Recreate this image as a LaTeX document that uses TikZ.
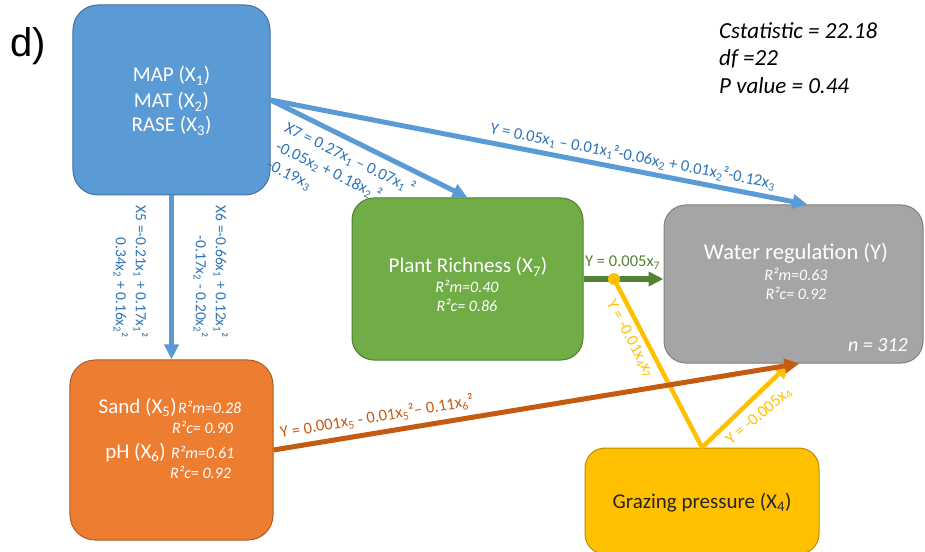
\documentclass[tikz,border=0pt]{standalone}
\usepackage{fontspec}
\setmainfont{Carlito}
\newfontfamily\panelfont{Liberation Sans}
\usetikzlibrary{arrows.meta}

\definecolor{mapblue}{HTML}{5B9BD5}
\definecolor{mapedge}{HTML}{41719C}
\definecolor{eqblue}{HTML}{2E75B6}
\definecolor{richgreen}{HTML}{70AD47}
\definecolor{richedge}{HTML}{507E32}
\definecolor{arrowgreen}{HTML}{548235}
\definecolor{wrgray}{HTML}{A5A5A5}
\definecolor{wredge}{HTML}{7F7F7F}
\definecolor{sandorange}{HTML}{ED7D31}
\definecolor{sandedge}{HTML}{AE5A21}
\definecolor{arroworange}{HTML}{C55A11}
\definecolor{grazyellow}{HTML}{FFC000}
\definecolor{grazedge}{HTML}{BC8C00}
\definecolor{inktext}{HTML}{262626}

\begin{document}
\begin{tikzpicture}[x=1bp,y=-1bp,
  boxshape/.style={draw, line width=1bp, rounded corners=25bp, inner sep=0},
  titletext/.style={font=\fontsize{21bp}{25bp}\selectfont, text=white, inner sep=0},
  rsqtext/.style={font=\fontsize{16bp}{19bp}\selectfont\itshape, text=white, inner sep=0},
  eqtext/.style={font=\fontsize{16.5bp}{20.5bp}\selectfont, inner sep=0},
  vertext/.style={font=\fontsize{15.5bp}{20bp}\selectfont, inner sep=0},
  linkarrow/.style={line width=5bp, -{Triangle[length=15bp,width=14bp]}},
  interline/.style={line width=4.5bp},
]
\useasboundingbox (0,0) rectangle (925,552);

% panel letter and fit statistics
\node[anchor=base west, inner sep=0, font=\panelfont\fontsize{40bp}{44bp}\selectfont] (panel) at (10,57) {d)};
\node[anchor=north west, inner sep=0, align=left, font=\fontsize{23bp}{27.5bp}\selectfont\itshape] (stats) at (719,22)
  {Cstatistic = 22.18\\ df =22\\ P value = 0.44};

% variable boxes
\node[boxshape, fill=mapblue, draw=mapedge, minimum width=197bp, minimum height=190bp] (map) at (171.5,100) {};
\node[boxshape, fill=richgreen, draw=richedge, minimum width=231bp, minimum height=162bp, rounded corners=22bp] (rich) at (467.5,279) {};
\node[boxshape, fill=wrgray, draw=wredge, minimum width=259bp, minimum height=158bp, rounded corners=22bp] (wr) at (793.5,284) {};
\node[boxshape, fill=sandorange, draw=sandedge, minimum width=203bp, minimum height=180bp] (sand) at (171.5,450) {};
\node[boxshape, fill=grazyellow, draw=grazedge, minimum width=234bp, minimum height=106bp, rounded corners=20bp] (graz) at (702,501) {};

% box contents
\node[titletext, anchor=base] (mapa) at (171.5,82) {MAP (X\textsubscript{1})};
\node[titletext, anchor=base] (mapb) at (171.5,108) {MAT (X\textsubscript{2})};
\node[titletext, anchor=base] (mapc) at (171.5,132) {RASE (X\textsubscript{3})};

\node[titletext, anchor=base] (richa) at (468,273) {Plant Richness (X\textsubscript{7})};
\node[rsqtext, anchor=base] (richb) at (467,293) {R²m=0.40};
\node[rsqtext, anchor=base] (richc) at (467,312) {R²c= 0.86};

\node[titletext, anchor=base, font=\fontsize{22.5bp}{26bp}\selectfont] (wra) at (796,260) {Water regulation (Y)};
\node[rsqtext, anchor=base] (wrb) at (796,281) {R²m=0.63};
\node[rsqtext, anchor=base] (wrc) at (796,300) {R²c= 0.92};
\node[rsqtext, anchor=base east, font=\fontsize{20bp}{24bp}\selectfont\itshape] (wrn) at (908,352) {n = 312};

\node[titletext, anchor=base east] (sanda) at (177,413) {Sand (X\textsubscript{5})};
\node[rsqtext, anchor=base west] (sandb) at (178,413) {R²m=0.28};
\node[rsqtext, anchor=base west] (sandc) at (172,433) {R²c= 0.90};
\node[titletext, anchor=base east] (sandd) at (166,458) {pH (X\textsubscript{6})};
\node[rsqtext, anchor=base west] (sande) at (171,458) {R²m=0.61};
\node[rsqtext, anchor=base west] (sandf) at (170,478) {R²c= 0.92};

\node[titletext, anchor=base, text=inktext] (graza) at (702,508) {Grazing pressure (X\textsubscript{4})};

% paths
\coordinate (knot) at (614,279);
\draw[linkarrow, mapblue] (map.east) -- (rich.north);
\draw[linkarrow, mapblue] (map.east) -- ([xshift=14bp]wr.north);
\draw[linkarrow, mapblue] (map.south) -- (map.south |- sand.north);
\draw[linkarrow, arrowgreen, line width=6bp] (rich.east) -- (rich.east -| wr.west);
\draw[interline, grazyellow] (graz.north) -- (knot);
\draw[linkarrow, grazyellow, line width=4.5bp] (graz.north) -- ([xshift=-4bp]wr.south);
\draw[linkarrow, arroworange] (sand.east) -- ([xshift=6bp]wr.south);
\fill[grazyellow] (knot) circle (6bp);

% path coefficients
\node[eqtext, text=eqblue, rotate=-26, anchor=north west, align=left] (eqx7) at (289,120)
  {X7 = 0.27x\textsubscript{1} – 0.07x\textsubscript{1} ²\\ -0.05x\textsubscript{2} + 0.18x\textsubscript{2} ²\\ -0.19x\textsubscript{3}};
\node[eqtext, text=eqblue, rotate=-11, anchor=north west] (eqy) at (492,121)
  {Y = 0.05x\textsubscript{1} – 0.01x\textsubscript{1}²-0.06x\textsubscript{2} + 0.01x\textsubscript{2}²-0.12x\textsubscript{3}};
\node[vertext, text=eqblue, rotate=-90, anchor=north east, align=right] (eqx5) at (148,338)
  {X5 =-0.21x\textsubscript{1} + 0.17x\textsubscript{1}²\\ 0.34x\textsubscript{2} + 0.16x\textsubscript{2}²};
\node[vertext, text=eqblue, rotate=-90, anchor=north east, align=right] (eqx6) at (228,338)
  {X6 =-0.66x\textsubscript{1} + 0.12x\textsubscript{1}²\\ -0.17x\textsubscript{2} - 0.20x\textsubscript{2}²};
\node[eqtext, text=arrowgreen, anchor=base west] (eqx7y) at (585,267) {Y = 0.005x\textsubscript{7}};
\node[eqtext, text=grazyellow, rotate=-62, anchor=north west] (eqint) at (616,298) {Y = -0.01x\textsubscript{4}x\textsubscript{7}};
\node[eqtext, text=grazyellow, rotate=40, anchor=north west] (eqx4) at (724,437) {Y = -0.005x\textsubscript{4}};
\node[eqtext, text=arroworange, rotate=9.5, anchor=base west] (eqsand) at (281,438)
  {Y = 0.001x\textsubscript{5} - 0.01x\textsubscript{5}²– 0.11x\textsubscript{6}²};
\end{tikzpicture}
\end{document}
